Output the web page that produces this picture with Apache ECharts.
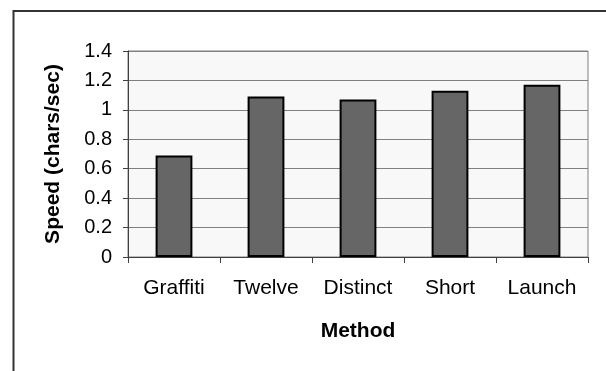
<!DOCTYPE html>
<html>
<head>
<meta charset="utf-8">
<style>
  html, body { margin: 0; padding: 0; background: #ffffff; }
  #chart { width: 606px; height: 371px; }
</style>
<script src="https://cdn.jsdelivr.net/npm/echarts@6/dist/echarts.min.js"></script>
</head>
<body>
<div id="chart"></div>
<script>
// Typing speed per entry method
const methods = ['Graffiti', 'Twelve', 'Distinct', 'Short', 'Launch'];
const speeds = [0.69, 1.09, 1.07, 1.13, 1.17];
const xTitle = 'Method';
const yTitle = 'Speed (chars/sec)';

const chart = echarts.init(document.getElementById('chart'), null, { renderer: 'canvas' });

const font = 'Arial, "Liberation Sans", sans-serif';

chart.setOption({
  animation: false,
  backgroundColor: '#ffffff',
  textStyle: { fontFamily: font, color: '#000' },
  graphic: [
    {
      // outer frame: only its left and top edges fall inside the canvas
      type: 'rect',
      z: -10,
      shape: { x: 13.5, y: 11, width: 800, height: 600 },
      style: { fill: 'none', stroke: '#333333', lineWidth: 2 }
    }
  ],
  grid: {
    left: 128,
    right: 18,
    top: 51,
    bottom: 114,
    show: true,
    backgroundColor: '#f8f8f8',
    borderColor: '#808080',
    borderWidth: 1
  },
  xAxis: {
    type: 'category',
    data: methods,
    boundaryGap: true,
    name: xTitle,
    nameLocation: 'middle',
    nameGap: 64,
    nameTextStyle: { fontFamily: font, fontSize: 21, fontWeight: 'bold', color: '#000' },
    axisLine: { lineStyle: { color: '#404040', width: 1 } },
    axisTick: { show: true, length: 6, inside: false, lineStyle: { color: '#404040' } },
    axisLabel: { fontFamily: font, fontSize: 21, color: '#000', margin: 21 },
    splitLine: { show: false }
  },
  yAxis: {
    type: 'value',
    min: 0,
    max: 1.4,
    interval: 0.2,
    name: yTitle,
    nameLocation: 'middle',
    nameRotate: 90,
    nameGap: 64,
    nameTextStyle: { fontFamily: font, fontSize: 21, fontWeight: 'bold', color: '#000' },
    axisLine: { show: true, lineStyle: { color: '#404040', width: 1 } },
    axisTick: { show: true, length: 5, inside: false, lineStyle: { color: '#404040' } },
    axisLabel: { fontFamily: font, fontSize: 20, color: '#000', margin: 16 },
    splitLine: { show: true, lineStyle: { color: '#808080', width: 1 } }
  },
  series: [
    {
      type: 'bar',
      data: speeds,
      barWidth: '40%',
      itemStyle: { color: '#666666', borderColor: '#000000', borderWidth: 2 }
    }
  ]
});
</script>
</body>
</html>
